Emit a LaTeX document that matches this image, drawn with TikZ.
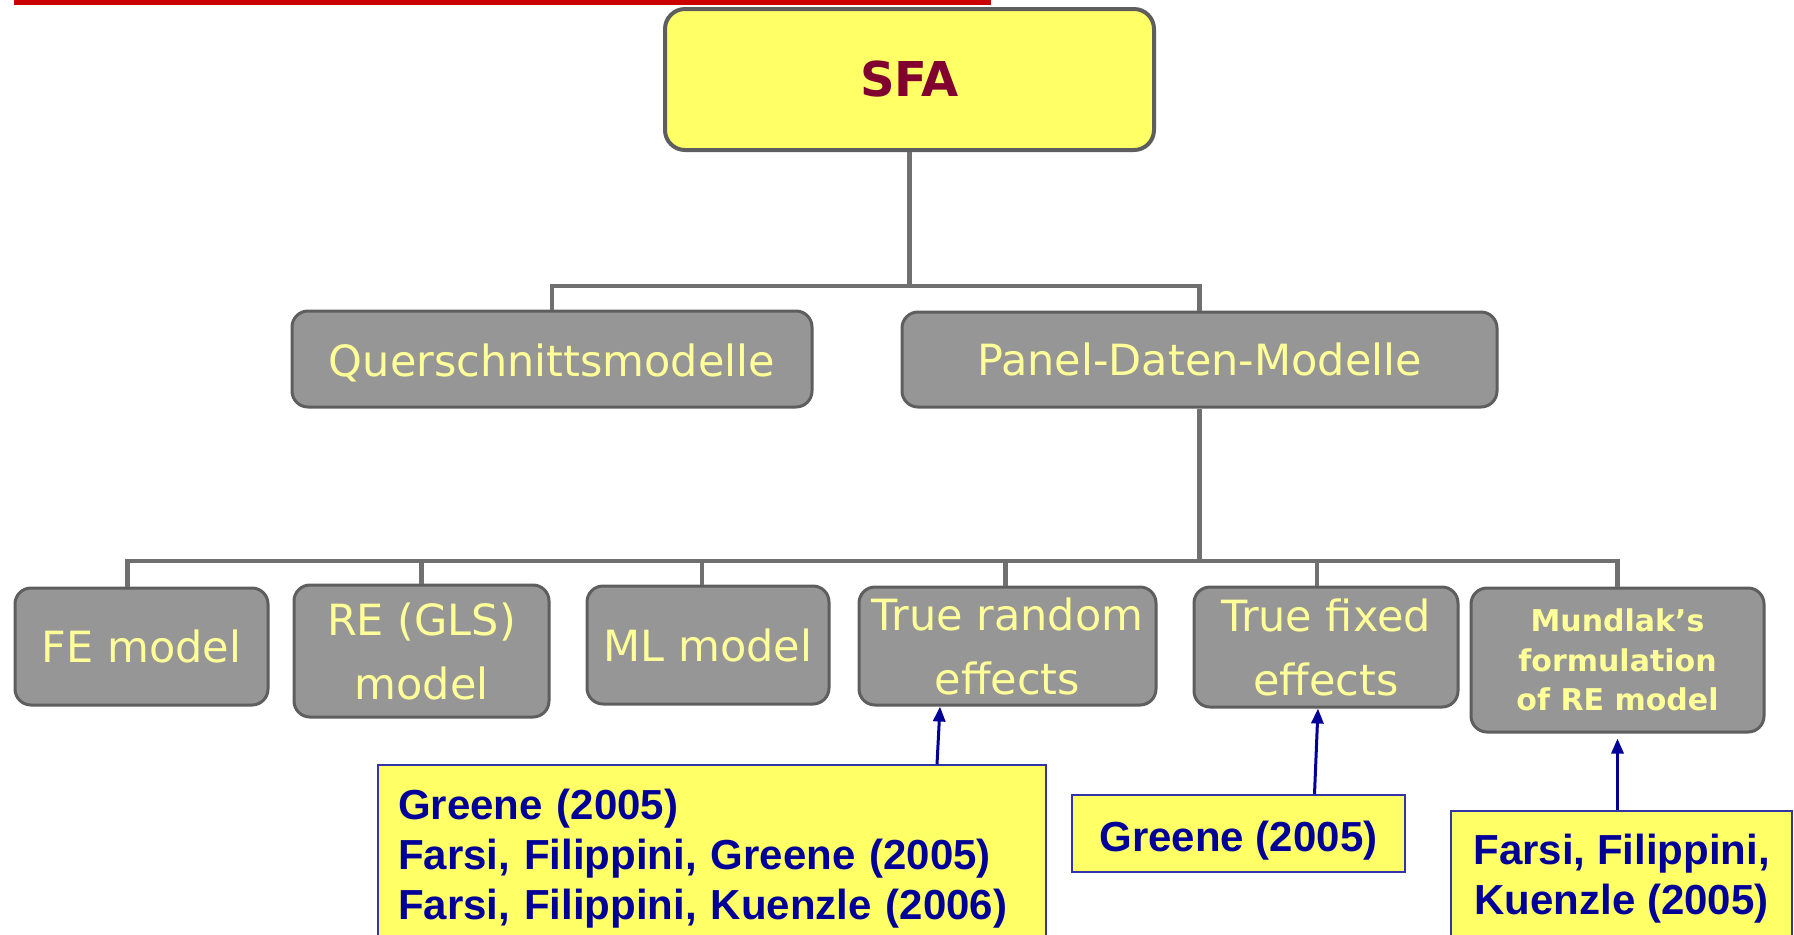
\documentclass[tikz,border=0pt]{standalone}
\usepackage{fontspec}
\setmainfont{DejaVu Sans}
\newfontfamily\refont{Liberation Sans}
\usetikzlibrary{arrows.meta}
\definecolor{boxgrey}{HTML}{969696}
\definecolor{boxborder}{HTML}{5E5E5E}
\definecolor{gtext}{HTML}{FFFF99}
\definecolor{sfayellow}{HTML}{FFFF66}
\definecolor{sfared}{HTML}{800030}
\definecolor{refblue}{HTML}{000099}
\definecolor{refborder}{HTML}{3333AA}
\definecolor{conngrey}{HTML}{707070}
\definecolor{topred}{HTML}{CC0000}
\tikzset{
  gbox/.style={draw=boxborder, line width=1.5pt, fill=boxgrey, rounded corners=8pt,
    text=gtext, font=\fontsize{21.5}{32}\selectfont, align=center, inner sep=0pt},
  sfabox/.style={draw=boxborder, line width=2pt, fill=sfayellow, rounded corners=10pt,
    text=sfared, font=\bfseries\fontsize{24}{28}\selectfont, inner sep=0pt},
  refbox/.style={draw=refborder, line width=0.8pt, fill=sfayellow, text=refblue,
    font=\refont\bfseries\fontsize{21}{25}\selectfont, inner sep=0pt},
  conn/.style={draw=conngrey, line width=2.3pt},
  arr/.style={draw=refblue, line width=1.5pt, -{Triangle[width=6pt,length=7.5pt]}}
}
\begin{document}
\begin{tikzpicture}[x=0.5pt,y=-0.5pt]
\useasboundingbox (0,0) rectangle (1794,934);
\fill[topred] (14,0) rectangle (991,5);

% top
\node[sfabox, minimum width=244.5pt, minimum height=70.5pt] (sfa) at (909.5,79.5) {SFA};
\node[gbox, minimum width=260pt, minimum height=48pt, text height=17.5pt, text depth=0pt] (quer) at (552,359) {Querschnittsmodelle};
\node[gbox, minimum width=297.5pt, minimum height=47.5pt] (panel) at (1199.5,359.5) {Panel-Daten-Modelle};

% bottom row
\node[gbox, minimum width=126.5pt, minimum height=58.5pt] (fe) at (141.5,646.5) {FE model};
\node[gbox, minimum width=127.5pt, minimum height=66pt] (re) at (421.5,651) {RE (GLS)\\model};
\node[gbox, minimum width=121pt, minimum height=59pt] (ml) at (708,645) {ML model};
\node[gbox, minimum width=148.5pt, minimum height=59pt] (tre) at (1007.5,646) {True random\\effects};
\node[gbox, minimum width=132pt, minimum height=60pt] (tfe) at (1326,647) {True fixed\\effects};
\node[gbox, minimum width=146.5pt, minimum height=72pt, font=\bfseries\fontsize{15}{19.75}\selectfont] (mund) at (1617.5,660) {Mundlak's\\formulation\\of RE model};

% reference boxes
\node[refbox, minimum height=93.5pt, text width=314pt, inner xsep=10pt, align=left] (ref1) at (712,858.5)
  {Greene (2005)\\Farsi, Filippini, Greene (2005)\\Farsi, Filippini, Kuenzle (2006)};
\node[refbox, minimum width=166.5pt, minimum height=38.5pt, text height=22pt, text depth=4pt] (ref2) at (1238.5,833.5) {Greene (2005)};
\node[refbox, minimum width=170.5pt, minimum height=67.5pt, align=center] (ref3) at (1621.5,878.5)
  {Farsi, Filippini,\\Kuenzle (2005)};

% tree connectors
\coordinate (j1) at (909.5,286);
\coordinate (j2) at (1199.5,561);
\draw[conn] (sfa.south) -- (j1);
\draw[conn] (quer.north) |- (j1) -| (panel.north);
\draw[conn] (panel.south) -- (j2);
\draw[conn] ([xshift=-7pt]fe.north) |- (j2) -| (mund.north);
\draw[conn] (re.north) -- (re.north |- j2);
\draw[conn] ([xshift=-3pt]ml.north) -- ([xshift=-3pt]ml.north |- j2);
\draw[conn] ([xshift=-1pt]tre.north) -- ([xshift=-1pt]tre.north |- j2);
\draw[conn] ([xshift=-4.5pt]tfe.north) -- ([xshift=-4.5pt]tfe.north |- j2);

% reference arrows
\draw[arr] ([xshift=112.5pt]ref1.north) -- ([xshift=-33.75pt]tre.south);
\draw[arr] ([xshift=38pt]ref2.north) -- ([xshift=-4pt]tfe.south);
\draw[arr, shorten >=2.5pt] ([xshift=-2pt]ref3.north) -- (mund.south);
\end{tikzpicture}
\end{document}
